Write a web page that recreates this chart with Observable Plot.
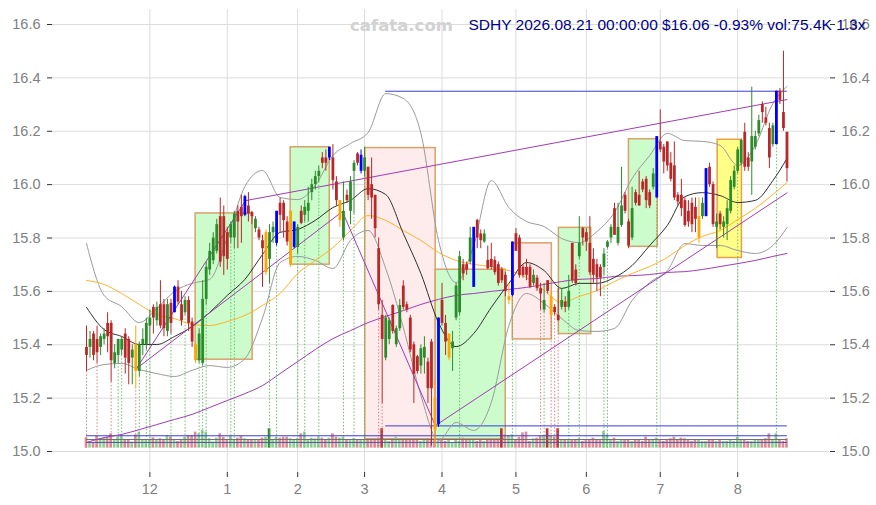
<!DOCTYPE html>
<html><head><meta charset="utf-8">
<script src="https://cdn.jsdelivr.net/npm/d3@7"></script>
<script src="https://cdn.jsdelivr.net/npm/@observablehq/plot@0.6"></script>
<style>html,body{margin:0;padding:0;background:#fff;}</style>
</head><body><div id="chart"></div>
<script>
// ---- tick labels ----
const monthTickIdx = [18,40,60,79,101,122,142,163,185];
const monthTickLabels = ["12","1","2","3","4","5","6","7","8"];
const yTicks = [15.0,15.2,15.4,15.6,15.8,16.0,16.2,16.4,16.6];
const titleText = "SDHY 2026.08.21 00:00:00 $16.06 -0.93% vol:75.4K 1.3x";
const watermark = "cafata.com";

// ---- daily OHLC (trading-day index 0..199) ----
const opens = [
15.39,15.39,15.44,15.42,15.39,15.42,15.48,15.48,15.33,15.36,
15.38,15.44,15.42,15.35,15.40,15.30,15.40,15.40,15.47,15.54,
15.49,15.55,15.55,15.45,15.555,15.52,15.616,15.55,15.52,15.566,
15.485,15.40,15.34,15.33,15.57,15.68,15.715,15.75,15.88,15.88,
15.82,15.80,15.80,15.90,15.915,15.885,15.92,15.895,15.835,15.83,
15.79,15.67,15.72,15.82,15.78,15.93,15.93,15.86,15.70,15.765,
15.765,15.90,15.885,15.90,15.97,16.00,16.03,16.10,16.10,16.10,
16.10,16.01,15.865,15.80,15.96,15.90,16.05,16.115,16.05,16.05,
16.065,16.00,15.96,15.76,15.51,15.35,15.42,15.547,15.40,15.46,
15.62,15.55,15.50,15.40,15.355,15.32,15.35,15.335,15.41,15.20,
15.10,15.566,15.48,15.35,15.385,15.50,15.52,15.70,15.70,15.71,
15.615,15.866,15.815,15.785,15.716,15.72,15.716,15.70,15.68,15.66,
15.566,15.585,15.816,15.80,15.69,15.69,15.69,15.63,15.65,15.61,
15.53,15.64,15.51,15.54,15.51,15.54,15.56,15.54,15.78,15.68,
15.73,15.835,15.82,15.78,15.72,15.70,15.69,15.69,15.765,15.80,
15.91,15.78,15.847,15.96,15.86,15.80,15.97,15.96,16.01,16.02,
15.97,15.99,15.95,16.16,16.14,16.16,16.08,16.07,15.96,15.96,
15.94,15.90,15.93,15.915,15.80,15.88,15.88,16.065,16.00,15.84,
15.89,15.84,15.85,15.90,15.99,16.05,16.08,16.196,16.10,16.085,
16.14,16.19,16.30,16.25,16.21,16.15,16.15,16.35,16.27,16.196];
const highs = [
15.47,15.45,15.45,15.47,15.44,15.46,15.52,15.49,15.40,15.42,
15.43,15.46,15.43,15.40,15.47,15.41,15.46,15.50,15.53,15.55,
15.56,15.64,15.57,15.57,15.57,15.62,15.64,15.60,15.58,15.58,
15.50,15.41,15.46,15.64,15.71,15.78,15.82,15.87,15.95,15.92,
15.84,15.86,15.90,15.92,15.96,15.96,15.97,15.90,15.88,15.84,
15.81,15.83,15.85,15.86,15.90,15.95,15.94,15.88,15.90,15.86,
15.85,15.92,15.94,15.99,16.02,16.05,16.07,16.12,16.13,16.14,
16.15,16.03,15.94,16.01,15.98,16.03,16.09,16.12,16.13,16.14,
16.065,16.10,15.96,15.80,15.566,15.51,15.50,15.55,15.47,15.57,
15.64,15.56,15.51,15.41,15.36,15.40,15.43,15.35,15.42,15.27,
15.50,15.63,15.51,15.44,15.45,15.63,15.75,15.72,15.71,15.84,
15.84,15.87,15.83,15.83,15.77,15.78,15.73,15.71,15.69,15.67,
15.63,15.785,15.835,15.81,15.70,15.72,15.70,15.68,15.66,15.63,
15.63,15.64,15.60,15.55,15.61,15.61,15.58,15.66,15.78,15.70,
15.88,15.84,15.835,15.88,15.76,15.72,15.70,15.76,15.79,15.85,
15.93,15.93,16.065,15.97,15.87,15.99,15.98,16.05,16.02,16.03,
15.98,16.06,16.18,16.28,16.15,16.16,16.12,16.16,15.97,16.02,
15.95,15.94,15.95,15.95,15.95,15.95,16.06,16.08,16.01,15.89,
15.90,15.88,15.94,16.03,16.07,16.14,16.17,16.23,16.12,16.365,
16.20,16.26,16.31,16.29,16.23,16.23,16.35,16.36,16.50,16.196];
const lows = [
15.30,15.35,15.34,15.33,15.36,15.40,15.37,15.26,15.31,15.33,
15.36,15.29,15.25,15.25,15.24,15.28,15.36,15.38,15.40,15.44,
15.47,15.46,15.43,15.43,15.44,15.52,15.55,15.47,15.51,15.45,
15.39,15.33,15.33,15.32,15.55,15.66,15.70,15.74,15.69,15.66,
15.68,15.78,15.76,15.76,15.78,15.88,15.86,15.85,15.82,15.79,
15.615,15.66,15.63,15.78,15.77,15.82,15.80,15.77,15.69,15.76,
15.74,15.85,15.86,15.86,15.94,15.98,16.01,16.06,16.05,16.09,
15.98,15.92,15.84,15.79,15.93,15.85,15.89,16.07,16.04,16.03,
15.94,15.87,15.80,15.53,15.18,15.34,15.40,15.44,15.39,15.45,
15.53,15.52,15.37,15.18,15.29,15.29,15.29,15.18,15.02,15.02,
15.09,15.47,15.36,15.34,15.30,15.49,15.51,15.64,15.66,15.70,
15.615,15.76,15.76,15.78,15.68,15.68,15.66,15.62,15.63,15.58,
15.55,15.58,15.75,15.65,15.65,15.64,15.61,15.62,15.60,15.53,
15.52,15.59,15.50,15.51,15.49,15.53,15.52,15.53,15.63,15.62,
15.72,15.77,15.75,15.66,15.63,15.60,15.58,15.66,15.76,15.78,
15.81,15.77,15.84,15.89,15.76,15.79,15.92,15.92,15.97,15.91,
15.91,15.98,15.95,16.12,16.04,16.05,16.01,15.94,15.92,15.88,
15.84,15.84,15.82,15.82,15.78,15.87,15.88,15.99,15.84,15.76,
15.83,15.80,15.79,15.89,15.98,16.04,16.07,16.05,16.05,15.96,
16.13,16.18,16.23,16.22,16.06,16.14,16.15,16.30,16.20,16.01];
const closes = [
15.36,15.42,15.36,15.37,15.43,15.44,15.43,15.34,15.37,15.42,
15.42,15.35,15.33,15.38,15.30,15.40,15.42,15.48,15.50,15.50,
15.54,15.47,15.46,15.55,15.48,15.616,15.56,15.49,15.566,15.48,
15.41,15.34,15.44,15.57,15.69,15.75,15.80,15.85,15.71,15.73,
15.72,15.85,15.89,15.86,15.88,15.955,15.89,15.88,15.87,15.80,
15.76,15.82,15.82,15.84,15.90,15.885,15.865,15.785,15.90,15.86,
15.84,15.855,15.915,15.93,16.00,16.03,16.05,16.08,16.08,16.14,
16.015,15.94,15.94,15.90,15.94,16.01,16.08,16.08,16.11,16.10,
15.96,15.95,15.835,15.55,15.42,15.50,15.49,15.45,15.46,15.547,
15.54,15.53,15.38,15.29,15.30,15.385,15.39,15.235,15.235,15.08,
15.50,15.48,15.41,15.44,15.41,15.62,15.73,15.665,15.68,15.80,
15.84,15.80,15.79,15.815,15.685,15.69,15.67,15.63,15.64,15.60,
15.58,15.785,15.75,15.66,15.66,15.66,15.616,15.66,15.61,15.59,
15.566,15.60,15.58,15.52,15.49,15.566,15.54,15.60,15.64,15.63,
15.78,15.80,15.785,15.67,15.66,15.65,15.65,15.74,15.785,15.84,
15.81,15.84,15.92,15.90,15.77,15.91,15.93,15.92,15.98,15.94,
15.92,16.04,16.18,16.13,16.085,16.07,16.02,15.95,15.935,15.91,
15.847,15.86,15.85,15.87,15.88,15.93,16.06,16.00,15.85,15.86,
15.85,15.86,15.91,16.015,16.05,16.13,16.165,16.065,16.065,16.18,
16.18,16.24,16.27,16.23,16.10,16.22,16.35,16.315,16.21,16.06];
// volume in thousands of shares
const volumes = [
84,49,43,97,76,81,89,116,62,89,
103,70,62,49,108,130,70,70,70,84,
70,76,70,103,89,62,54,70,89,103,
103,130,116,143,130,76,49,81,116,89,
70,97,70,81,97,76,62,62,62,70,
81,89,157,70,89,81,89,89,76,62,
76,116,130,70,81,76,89,81,70,81,
116,89,81,89,70,70,76,70,70,62,
62,62,70,81,157,70,54,70,89,62,
70,62,70,76,62,54,62,70,70,62,
54,76,54,70,43,62,54,81,70,62,
70,54,70,54,70,76,62,70,157,108,
103,108,70,89,124,130,54,76,81,97,
103,157,97,89,157,70,62,70,62,70,
76,54,62,70,81,62,70,135,108,62,
81,54,70,70,62,54,70,62,54,89,
62,62,81,62,54,62,76,89,70,81,
76,62,54,70,62,54,54,70,62,54,
62,54,54,70,54,89,70,62,54,54,
62,62,70,76,116,62,116,70,54,76];

// ---- signal markers ----
const blueIdx = [25,45,54,59,69,78,100,110,121,162,176,196];
const orangeIdx = [14,31,51,58,72,99,103,120,132,174];
const greenDotIdx = [9,10,15,17,18,24,28,32,33,34,41,42,52,54,60,62,66,73,76,79,106,121,130,137,140,147,148,162,185,196];
const redDotIdx = [0,3,7,14,83,84,129,132,133,134];

// ---- indicator lines, sampled every 5 trading days ----
const sampleIdx = [0,5,10,15,20,25,30,35,40,45,50,55,60,65,70,75,80,85,90,95,100,105,110,115,120,125,130,135,140,145,150,155,160,165,170,175,180,185,190,195,199];
const ma20 = [15.540,15.457,15.431,15.401,15.401,15.431,15.468,15.521,15.585,15.645,15.738,15.821,15.832,15.866,15.914,15.941,15.985,15.963,15.817,15.667,15.483,15.393,15.442,15.540,15.630,15.708,15.678,15.611,15.630,15.630,15.652,15.697,15.772,15.847,15.955,15.970,15.959,15.933,15.941,16.015,16.098];
const ma50 = [15.641,15.626,15.592,15.551,15.513,15.498,15.476,15.472,15.487,15.510,15.547,15.592,15.667,15.716,15.764,15.828,15.884,15.866,15.828,15.791,15.746,15.716,15.701,15.693,15.678,15.652,15.603,15.558,15.581,15.603,15.637,15.667,15.693,15.727,15.772,15.806,15.828,15.869,15.911,15.963,16.008];
const maLong = [15.034,15.052,15.064,15.082,15.101,15.120,15.139,15.165,15.191,15.217,15.247,15.292,15.337,15.382,15.423,15.453,15.483,15.506,15.528,15.551,15.570,15.585,15.592,15.600,15.607,15.615,15.626,15.637,15.645,15.648,15.656,15.659,15.663,15.671,15.674,15.682,15.693,15.704,15.716,15.731,15.742];
const bbUpper = [15.779,15.585,15.543,15.483,15.536,15.600,15.630,15.645,15.802,15.993,16.053,15.952,15.944,15.997,16.109,16.154,16.195,16.341,16.323,16.192,15.791,15.633,15.772,16.015,15.914,15.862,15.843,15.798,15.783,15.824,15.896,16.023,16.109,16.192,16.165,16.162,16.147,16.072,16.147,16.304,16.368];
const bbLower = [15.304,15.326,15.330,15.307,15.292,15.281,15.304,15.322,15.315,15.348,15.500,15.708,15.731,15.716,15.686,15.791,15.828,15.686,15.465,15.210,15.041,15.109,15.079,15.184,15.472,15.592,15.555,15.498,15.453,15.450,15.461,15.566,15.633,15.678,15.779,15.772,15.772,15.753,15.742,15.772,15.839];

// ---- range boxes ----
const boxStart  = [31.0, 58.0, 79.2, 99.2, 121.1, 134.2, 154.1, 179.3];
const boxEnd    = [47.2, 69.1, 99.2, 119.1, 132.2, 143.4, 162.3, 186.2];
const boxTop    = [15.892, 16.14, 16.137, 15.681, 15.78, 15.838, 16.17, 16.168];
const boxBottom = [15.344, 15.70, 15.046, 15.046, 15.42, 15.44, 15.767, 15.725];
const boxKind   = ["up","up","down","up","down","up","up","warn"];

// ---- trend lines ----
const trendX1 = [14.2, 14.2, 72.7, 99.1, 45.2];
const trendY1 = [15.311, 15.311, 15.899, 15.097, 15.94];
const trendX2 = [45.2, 72.7, 99.1, 199.1, 199.1];
const trendY2 = [15.94, 15.899, 15.097, 15.97, 16.319];

// ---- horizontal levels ----
const levelY  = [16.35, 15.096, 15.059, 15.045, 15.034];
const levelX1 = [85, 85, 0, 0, 0];
const levelX2 = [199.1, 199.1, 199.1, 199.1, 199.1];
const levelKind = ["blue","blue","blue","gray","navy"];

// ---- build tables ----
const candles = closes.map((c, i) => ({i, o: opens[i], h: highs[i], l: lows[i], c, v: volumes[i]}));
const colorOf = d => blueIdx.includes(d.i) ? "#0000ff" : orangeIdx.includes(d.i) ? "#ffa500" : (d.c >= d.o ? "#2a8c2a" : "#b82828");
const volBase = 15.0125, volK = 0.000463;
const volFill = d => d.v >= 150 ? (d.c >= d.o ? "#2f8f2f" : "#c03434") : (d.c >= d.o ? "#92cf92" : "#db8f95");
const series = (arr) => sampleIdx.map((i, k) => ({i, v: arr[k]}));
const boxes = boxStart.map((s, k) => ({x1: s, x2: boxEnd[k], y1: boxBottom[k], y2: boxTop[k], kind: boxKind[k]}));
const boxFill = {up: "#ccfccc", down: "#fdeceb", warn: "#ffff88"};
const trends = trendX1.map((x, k) => ({x1: x, y1: trendY1[k], x2: trendX2[k], y2: trendY2[k]}));
const levels = levelY.map((y, k) => ({y, x1: levelX1[k], x2: levelX2[k], kind: levelKind[k]}));
const levelColor = {blue: "#3c3ce0", gray: "#707070", navy: "#5050a8"};

const chart = Plot.plot({
  width: 876, height: 505,
  marginLeft: 52, marginRight: 47, marginTop: 9, marginBottom: 33,
  x: {type: "linear", domain: [-9.659, 211.08], axis: null},
  y: {domain: [14.92131, 16.65621], axis: null},
  style: {fontFamily: "'Liberation Sans', Arial, sans-serif", fontSize: "14.5px", background: "#fff", overflow: "visible"},
  marks: [
    Plot.gridY(yTicks, {stroke: "#dcdcdc", strokeOpacity: 1}),
    Plot.gridX(monthTickIdx, {stroke: "#dcdcdc", strokeOpacity: 1}),
    Plot.axisY(yTicks, {anchor: "left", tickSize: 5, tickPadding: 7, tickFormat: d => d.toFixed(1), stroke: "#333", fill: "#808080", fontSize: 14.5}),
    Plot.axisY(yTicks, {anchor: "right", tickSize: 5, tickPadding: 7, tickFormat: d => d.toFixed(1), stroke: "#333", fill: "#808080", fontSize: 14.5}),
    Plot.axisX(monthTickIdx, {anchor: "bottom", tickSize: 5, tickPadding: 6, tickFormat: d => monthTickLabels[monthTickIdx.indexOf(d)], stroke: "#333", fill: "#808080", fontSize: 14.5}),
    Plot.rect(boxes, {x1: "x1", x2: "x2", y1: "y1", y2: "y2", fill: d => boxFill[d.kind], stroke: d => d.kind === "warn" ? "#eaa040" : "#d9a26a", strokeWidth: 1.5}),
    Plot.rect(candles, {x1: d => d.i - 0.38, x2: d => d.i + 0.38, y1: volBase, y2: d => volBase + d.v * volK, fill: volFill}),
    Plot.ruleX(greenDotIdx, {x: d => d, y1: d => lows[d], y2: volBase, stroke: "#5cb85c", strokeWidth: 0.9, strokeDasharray: "1.5,1.8"}),
    Plot.ruleX(redDotIdx, {x: d => d, y1: d => lows[d], y2: volBase, stroke: "#e07070", strokeWidth: 0.9, strokeDasharray: "1.5,1.8"}),
    Plot.ruleY(levels, {y: "y", x1: "x1", x2: "x2", stroke: d => levelColor[d.kind], strokeWidth: 1}),
    Plot.line(series(bbUpper), {x: "i", y: "v", stroke: "#9a9a9a", strokeWidth: 1, curve: "monotone-x"}),
    Plot.line(series(bbLower), {x: "i", y: "v", stroke: "#9a9a9a", strokeWidth: 1, curve: "monotone-x"}),
    Plot.line(series(maLong), {x: "i", y: "v", stroke: "#a03cb4", strokeWidth: 1, curve: "monotone-x"}),
    Plot.line(series(ma50), {x: "i", y: "v", stroke: "#ffb228", strokeWidth: 1, curve: "monotone-x"}),
    Plot.line(series(ma20), {x: "i", y: "v", stroke: "#1a1a1a", strokeWidth: 0.9, curve: "monotone-x"}),
    Plot.link(trends, {x1: "x1", y1: "y1", x2: "x2", y2: "y2", stroke: "#a03cb4", strokeWidth: 1}),
    Plot.ruleX(candles, {x: "i", y1: "l", y2: "h", stroke: colorOf, strokeWidth: 1}),
    Plot.ruleX(candles, {x: "i", y1: "o", y2: "c", stroke: colorOf, strokeWidth: 2.8}),
    Plot.text([watermark], {frameAnchor: "top-left", dx: 349, dy: 16, textAnchor: "middle", lineAnchor: "middle", fill: "#d2d2d2", fontWeight: "bold", fontSize: 16.5, fontFamily: "'DejaVu Sans', sans-serif"}),
    Plot.text([titleText], {frameAnchor: "top-left", dx: 416, dy: 16, textAnchor: "start", lineAnchor: "middle", fill: "#00008b", fontSize: 15.5})
  ]
});
document.getElementById("chart").appendChild(chart);
</script>
</body></html>
